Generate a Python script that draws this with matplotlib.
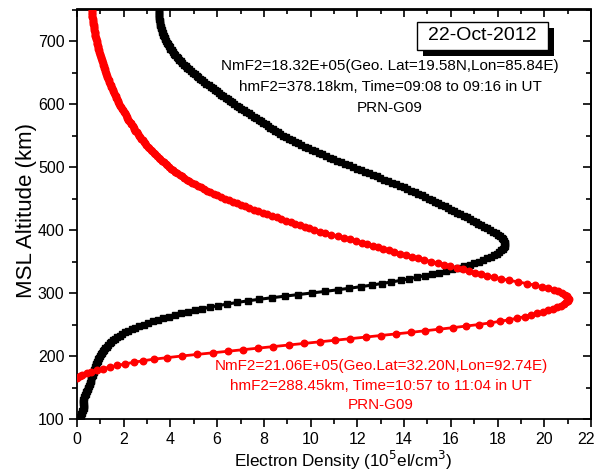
import matplotlib
matplotlib.use('Agg')
import numpy as np
import matplotlib.pyplot as plt
from matplotlib.patches import Rectangle
from matplotlib.transforms import ScaledTranslation
from matplotlib.ticker import MultipleLocator

plt.rcParams['font.family'] = ['Liberation Sans', 'DejaVu Sans']

# ---------------- data ----------------
# Profile 1 (black, 09:08-09:16 UT): electron density (1e5 el/cm^3), 100..750 km every 2.5 km
black_alt_start, black_alt_step = 100.0, 2.5
black_density = [
    0.10, 0.12, 0.15, 0.18, 0.20, 0.22, 0.24, 0.28, 0.30, 0.28,   # 100-122.5
    0.26, 0.26, 0.27, 0.30, 0.32, 0.35, 0.37, 0.40, 0.43, 0.46,   # 125-147.5
    0.49, 0.52, 0.54, 0.56, 0.58, 0.60, 0.62, 0.65, 0.67, 0.69,   # 150-172.5
    0.71, 0.73, 0.75, 0.78, 0.80, 0.83, 0.85, 0.88, 0.91, 0.94,   # 175-197.5
    0.97, 1.01, 1.05, 1.10, 1.15, 1.21, 1.27, 1.33, 1.40, 1.47,   # 200-222.5
    1.55, 1.63, 1.72, 1.82, 1.93, 2.06, 2.20, 2.35, 2.50, 2.67,   # 225-247.5
    2.85, 3.05, 3.25, 3.47, 3.70, 3.94, 4.20, 4.47, 4.75, 5.04,   # 250-272.5
    5.35, 5.69, 6.05, 6.43, 6.85, 7.30, 7.80, 8.34, 8.90, 9.48,   # 275-297.5
    10.05, 10.61, 11.15, 11.66, 12.15, 12.61, 13.05, 13.46, 13.85, 14.21,  # 300-322.5
    14.55, 14.88, 15.20, 15.51, 15.80, 16.06, 16.30, 16.56, 16.80, 17.01,  # 325-347.5
    17.20, 17.38, 17.55, 17.71, 17.85, 17.97, 18.08, 18.16, 18.23, 18.27,  # 350-372.5
    18.30, 18.32, 18.31, 18.29, 18.25, 18.19, 18.12, 18.03, 17.92, 17.80,  # 375-397.5
    17.66, 17.54, 17.42, 17.30, 17.18, 17.06, 16.93, 16.81, 16.68, 16.55,  # 400-422.5
    16.41, 16.28, 16.14, 16.01, 15.87, 15.74, 15.60, 15.47, 15.33, 15.19,  # 425-447.5
    15.05, 14.90, 14.75, 14.60, 14.45, 14.30, 14.14, 13.99, 13.83, 13.67,  # 450-472.5
    13.50, 13.33, 13.16, 12.99, 12.82, 12.65, 12.48, 12.31, 12.14, 11.97,  # 475-497.5
    11.80, 11.63, 11.46, 11.29, 11.13, 10.97, 10.81, 10.65, 10.50, 10.35,  # 500-522.5
    10.20, 10.05, 9.90, 9.75, 9.60, 9.46, 9.32, 9.19, 9.07, 8.95,          # 525-547.5
    8.83, 8.71, 8.60, 8.49, 8.38, 8.27, 8.17, 8.07, 7.97, 7.87,            # 550-572.5
    7.77, 7.67, 7.57, 7.46, 7.36, 7.25, 7.15, 7.04, 6.94, 6.84,            # 575-597.5
    6.74, 6.64, 6.55, 6.45, 6.36, 6.26, 6.17, 6.08, 5.99, 5.90,            # 600-622.5
    5.81, 5.72, 5.63, 5.54, 5.45, 5.36, 5.28, 5.20, 5.12, 5.04,            # 625-647.5
    4.96, 4.88, 4.80, 4.72, 4.65, 4.57, 4.50, 4.43, 4.37, 4.31,            # 650-672.5
    4.26, 4.20, 4.15, 4.10, 4.05, 4.00, 3.96, 3.92, 3.88, 3.84,            # 675-697.5
    3.81, 3.78, 3.75, 3.72, 3.69, 3.66, 3.64, 3.62, 3.60, 3.58,            # 700-722.5
    3.57, 3.56, 3.55, 3.54, 3.53, 3.52, 3.51, 3.50, 3.50, 3.49,            # 725-747.5
    3.49,                                                                  # 750
]

# Profile 2 (red, 10:57-11:04 UT): 165..750 km every 2.5 km
red_alt_start, red_alt_step = 165.0, 2.5
red_density = [
    0.02, 0.11, 0.22, 0.41, 0.62, 0.86, 1.12, 1.41, 1.72, 2.06,             # 165-187.5
    2.42, 2.84, 3.30, 3.87, 4.48, 5.14, 5.80, 6.45, 7.10, 7.75,             # 190-212.5
    8.40, 9.06, 9.72, 10.39, 11.05, 11.70, 12.35, 13.00, 13.65, 14.28,      # 215-237.5
    14.90, 15.51, 16.10, 16.67, 17.20, 17.67, 18.10, 18.49, 18.85, 19.16,   # 240-262.5
    19.45, 19.71, 19.95, 20.17, 20.37, 20.55, 20.70, 20.84, 20.95, 21.03,   # 265-287.5
    21.05, 21.03, 20.98, 20.88, 20.75, 20.59, 20.40, 20.16, 19.90, 19.59,   # 290-312.5
    19.25, 18.88, 18.50, 18.16, 17.85, 17.57, 17.30, 17.04, 16.78, 16.52,   # 315-337.5
    16.25, 15.98, 15.70, 15.43, 15.15, 14.87, 14.60, 14.34, 14.08, 13.83,   # 340-362.5
    13.58, 13.34, 13.10, 12.87, 12.65, 12.43, 12.20, 11.96, 11.70, 11.43,   # 365-387.5
    11.15, 10.88, 10.62, 10.38, 10.15, 9.95, 9.75, 9.55, 9.35, 9.15,        # 390-412.5
    8.95, 8.75, 8.55, 8.35, 8.15, 7.95, 7.75, 7.56, 7.38, 7.20,             # 415-437.5
    7.02, 6.84, 6.66, 6.49, 6.32, 6.16, 6.00, 5.85, 5.70, 5.56,             # 440-462.5
    5.42, 5.29, 5.16, 5.04, 4.92, 4.81, 4.70, 4.60, 4.50, 4.40,             # 465-487.5
    4.30, 4.21, 4.12, 4.03, 3.95, 3.87, 3.79, 3.71, 3.64, 3.56,             # 490-512.5
    3.49, 3.42, 3.35, 3.28, 3.22, 3.15, 3.09, 3.03, 2.97, 2.91,             # 515-537.5
    2.86, 2.81, 2.76, 2.71, 2.66, 2.61, 2.55, 2.50, 2.46, 2.42,             # 540-562.5
    2.38, 2.33, 2.29, 2.24, 2.20, 2.16, 2.12, 2.08, 2.04, 2.00,             # 565-587.5
    1.96, 1.92, 1.88, 1.84, 1.81, 1.77, 1.74, 1.71, 1.68, 1.65,             # 590-612.5
    1.62, 1.59, 1.56, 1.53, 1.50, 1.47, 1.44, 1.41, 1.38, 1.35,             # 615-637.5
    1.32, 1.30, 1.27, 1.24, 1.22, 1.20, 1.18, 1.16, 1.14, 1.12,             # 640-662.5
    1.10, 1.08, 1.06, 1.04, 1.02, 1.00, 0.98, 0.96, 0.94, 0.92,             # 665-687.5
    0.90, 0.88, 0.87, 0.85, 0.84, 0.82, 0.81, 0.79, 0.78, 0.76,             # 690-712.5
    0.75, 0.74, 0.73, 0.72, 0.71, 0.70, 0.69, 0.68, 0.67, 0.66,             # 715-737.5
    0.66, 0.65, 0.65, 0.64, 0.64,                                           # 740-750
]

black_alt = black_alt_start + black_alt_step * np.arange(len(black_density))
red_alt = red_alt_start + red_alt_step * np.arange(len(red_density))

black_text = ["NmF2=18.32E+05(Geo. Lat=19.58N,Lon=85.84E)",
              "hmF2=378.18km, Time=09:08 to 09:16 in UT",
              "PRN-G09"]
red_text = ["NmF2=21.06E+05(Geo.Lat=32.20N,Lon=92.74E)",
            "hmF2=288.45km, Time=10:57 to 11:04 in UT",
            "PRN-G09"]
date_label = "22-Oct-2012"
x_label = r"Electron Density (10$^{5}$el/cm$^{3}$)"
y_label = "MSL Altitude (km)"

# ---------------- figure ----------------
W, H = 595, 475
fig = plt.figure(figsize=(W / 100, H / 100), dpi=100)
ax = fig.add_axes([77 / W, 1 - 419 / H, (591 - 77) / W, (419 - 9.5) / H])

ax.plot(black_density, black_alt, color='black', lw=2.2, marker='s', ms=4.0,
        mec='black', mfc='black', zorder=3)
ax.plot(red_density, red_alt, color='#ff0000', lw=2.0, marker='o', ms=4.7,
        mec='#ff0000', mfc='#ff0000', zorder=4)

ax.set_xlim(0, 22)
ax.set_ylim(100, 750)
ax.xaxis.set_major_locator(MultipleLocator(2))
ax.xaxis.set_minor_locator(MultipleLocator(1))
ax.yaxis.set_major_locator(MultipleLocator(100))
ax.yaxis.set_minor_locator(MultipleLocator(50))
ax.tick_params(which='both', direction='out', top=False, right=False,
               labelsize=11.5, width=1.2, pad=3)
ax.tick_params(which='major', length=6)
ax.tick_params(which='minor', length=3.5)
for sp in ax.spines.values():
    sp.set_linewidth(1.3)

# mirrored axes with inward ticks
secx = ax.secondary_xaxis('top')
secx.xaxis.set_major_locator(MultipleLocator(2))
secx.xaxis.set_minor_locator(MultipleLocator(1))
secx.tick_params(which='both', direction='in', labeltop=False, width=1.2)
secx.tick_params(which='major', length=6)
secx.tick_params(which='minor', length=3.5)
secy = ax.secondary_yaxis('right')
secy.yaxis.set_major_locator(MultipleLocator(100))
secy.yaxis.set_minor_locator(MultipleLocator(50))
secy.tick_params(which='both', direction='in', labelright=False, width=1.2)
secy.tick_params(which='major', length=6)
secy.tick_params(which='minor', length=3.5)
for s in (secx, secy):
    for sp in s.spines.values():
        sp.set_linewidth(1.3)

ax.set_xlabel(x_label, fontsize=12.3)
ax.xaxis.set_label_coords(0.517, -0.074)
ax.set_ylabel(y_label, fontsize=16)
ax.yaxis.set_label_coords(-0.078, 0.51)

# annotations
for t, y in zip(black_text, [66, 87, 108]):
    fig.text(390 / W, 1 - y / H, t, ha='center', va='center', fontsize=11,
             color='black')
for t, y in zip(red_text, [366, 386, 405]):
    fig.text(381 / W, 1 - y / H, t, ha='center', va='center', fontsize=11,
             color='#ff0000')

# date box with drop shadow
fig.add_artist(Rectangle((423 / W, 1 - 56 / H), 131 / W, 28 / H,
                         transform=fig.transFigure, fc='black', ec='black',
                         lw=0, zorder=10))
fig.add_artist(Rectangle((417 / W, 1 - 50 / H), 131 / W, 28 / H,
                         transform=fig.transFigure, fc='white', ec='black',
                         lw=1.0, zorder=11))
fig.text(482.5 / W, 1 - 35.5 / H, date_label, ha='center', va='center',
         fontsize=14, color='black', zorder=12)

# keep the last x tick label inside the picture (as in the reference)
fig.canvas.draw()
for tk in ax.xaxis.get_major_ticks():
    if abs(tk.get_loc() - 22) < 1e-6:
        tk.label1.set_transform(tk.label1.get_transform() +
                                ScaledTranslation(-0.05, 0, fig.dpi_scale_trans))

fig.savefig('out.png', dpi=100)
